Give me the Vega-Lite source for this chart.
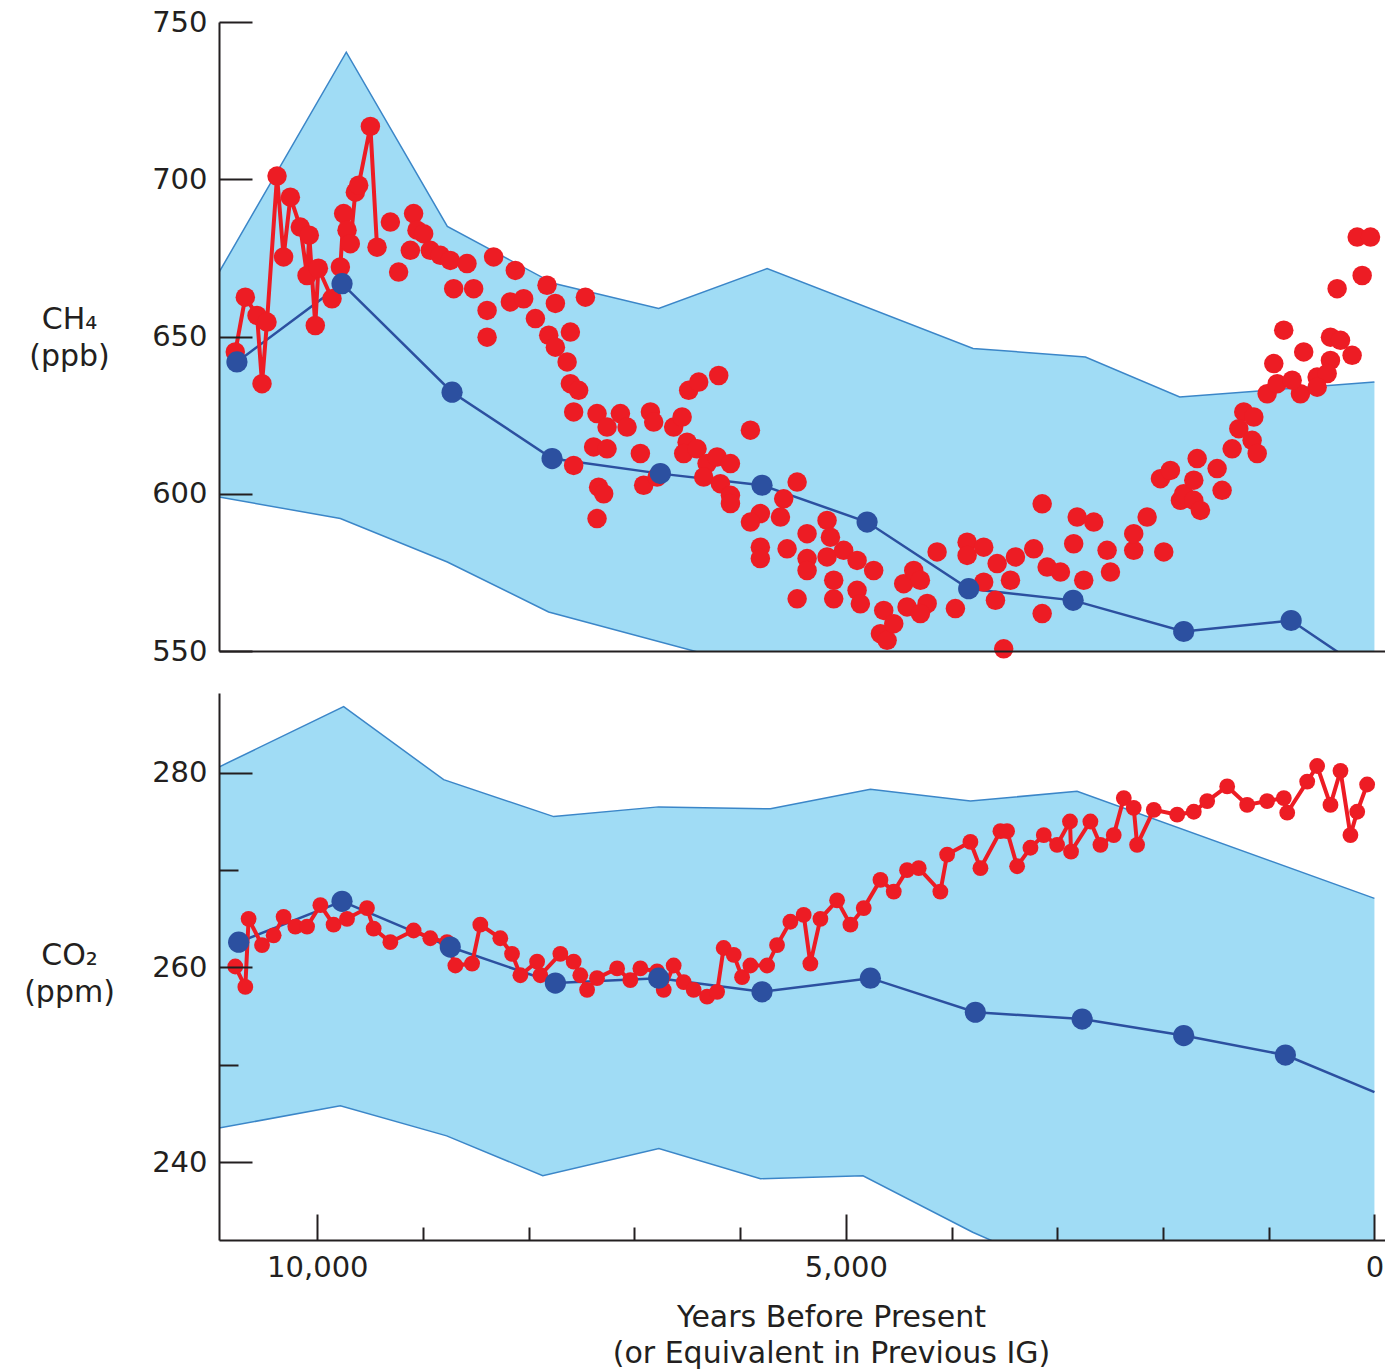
{
  "$schema": "https://vega.github.io/schema/vega-lite/v6.json",
  "background": "white",
  "padding": {"left": 23, "top": 8, "right": 0, "bottom": 8},
  "bounds": "flush",
  "spacing": 42,
  "config": {
    "view": {"stroke": null},
    "axis": {
      "domainColor": "#231f20", "domainWidth": 2,
      "tickColor": "#231f20", "tickWidth": 2,
      "labelFont": "DejaVu Sans", "labelFontSize": 29, "labelColor": "#231f20",
      "titleFont": "DejaVu Sans", "titleFontSize": 30, "titleFontWeight": "normal", "titleColor": "#231f20",
      "grid": false, "labelFlush": false, "labelOverlap": false
    }
  },
  "datasets": {
    "ch4_upper": [
      {"year": 10930, "ppb": 670.4}, {"year": 9726, "ppb": 740.4}, {"year": 8770, "ppb": 685.0},
      {"year": 7767, "ppb": 666.9}, {"year": 6771, "ppb": 658.9}, {"year": 5745, "ppb": 671.6},
      {"year": 3797, "ppb": 646.2}, {"year": 2734, "ppb": 643.5}, {"year": 1842, "ppb": 630.8},
      {"year": 0, "ppb": 635.5}
    ],
    "ch4_lower": [
      {"year": 10930, "ppb": 599.0}, {"year": 9782, "ppb": 592.1}, {"year": 8770, "ppb": 578.3},
      {"year": 7812, "ppb": 562.4}, {"year": 5750, "ppb": 543.8}, {"year": 3000, "ppb": 520},
      {"year": 0, "ppb": 500}
    ],
    "ch4_model": [
      {"year": 10760, "ppb": 641.9}, {"year": 9766, "ppb": 666.8}, {"year": 8725, "ppb": 632.3},
      {"year": 7779, "ppb": 611.2}, {"year": 6755, "ppb": 606.4}, {"year": 5793, "ppb": 602.7},
      {"year": 4799, "ppb": 591.0}, {"year": 3838, "ppb": 569.8}, {"year": 2850, "ppb": 566.1},
      {"year": 1804, "ppb": 556.2}, {"year": 788, "ppb": 559.7}, {"year": 0, "ppb": 541.8}
    ],
    "ch4_early": [
      {"year": 10776, "ppb": 645.1}, {"year": 10681, "ppb": 662.5}, {"year": 10570, "ppb": 656.7},
      {"year": 10523, "ppb": 635.0}, {"year": 10476, "ppb": 654.6}, {"year": 10381, "ppb": 701.0},
      {"year": 10319, "ppb": 675.3}, {"year": 10255, "ppb": 694.3}, {"year": 10161, "ppb": 684.8},
      {"year": 10097, "ppb": 669.4}, {"year": 10076, "ppb": 682.2}, {"year": 10019, "ppb": 653.5},
      {"year": 9990, "ppb": 671.7}, {"year": 9861, "ppb": 662.0}, {"year": 9782, "ppb": 672.1},
      {"year": 9751, "ppb": 689.1}, {"year": 9719, "ppb": 683.8}, {"year": 9688, "ppb": 679.5},
      {"year": 9640, "ppb": 695.9}, {"year": 9609, "ppb": 698.1}, {"year": 9498, "ppb": 716.8},
      {"year": 9435, "ppb": 678.4}
    ],
    "ch4_late": [
      {"year": 9309, "ppb": 686.4}, {"year": 9231, "ppb": 670.5}, {"year": 9120, "ppb": 677.4},
      {"year": 9089, "ppb": 689.1}, {"year": 9057, "ppb": 683.8}, {"year": 8994, "ppb": 682.7},
      {"year": 8931, "ppb": 677.4}, {"year": 8836, "ppb": 675.8}, {"year": 8742, "ppb": 674.2},
      {"year": 8584, "ppb": 673.2}, {"year": 8332, "ppb": 675.3}, {"year": 8127, "ppb": 671.0},
      {"year": 8710, "ppb": 665.2}, {"year": 8521, "ppb": 665.2}, {"year": 7827, "ppb": 666.3},
      {"year": 7748, "ppb": 660.5}, {"year": 7464, "ppb": 662.5}, {"year": 8394, "ppb": 658.3},
      {"year": 8174, "ppb": 661.0}, {"year": 8048, "ppb": 662.0}, {"year": 7937, "ppb": 655.7},
      {"year": 8394, "ppb": 649.8}, {"year": 7606, "ppb": 651.4}, {"year": 7811, "ppb": 650.4},
      {"year": 7748, "ppb": 646.6}, {"year": 7637, "ppb": 641.9}, {"year": 7606, "ppb": 635.0},
      {"year": 7528, "ppb": 632.9}, {"year": 7575, "ppb": 626.0}, {"year": 7354, "ppb": 625.5},
      {"year": 7133, "ppb": 625.5}, {"year": 6849, "ppb": 626.0}, {"year": 7259, "ppb": 621.2},
      {"year": 7070, "ppb": 621.2}, {"year": 6818, "ppb": 622.8}, {"year": 6629, "ppb": 621.2},
      {"year": 6549, "ppb": 624.4}, {"year": 6487, "ppb": 632.9}, {"year": 6392, "ppb": 635.5},
      {"year": 6203, "ppb": 637.6}, {"year": 5903, "ppb": 620.2}, {"year": 7386, "ppb": 614.9},
      {"year": 7259, "ppb": 614.3}, {"year": 6944, "ppb": 612.8}, {"year": 7575, "ppb": 609.0},
      {"year": 7339, "ppb": 602.1}, {"year": 7291, "ppb": 600.0}, {"year": 7354, "ppb": 592.1},
      {"year": 6913, "ppb": 602.7}, {"year": 6786, "ppb": 605.3}, {"year": 6502, "ppb": 616.4},
      {"year": 6534, "ppb": 612.8}, {"year": 6408, "ppb": 614.3}, {"year": 6313, "ppb": 609.6},
      {"year": 6218, "ppb": 611.7}, {"year": 6092, "ppb": 609.6}, {"year": 6345, "ppb": 605.3},
      {"year": 6187, "ppb": 603.2}, {"year": 6092, "ppb": 599.5}, {"year": 6092, "ppb": 596.9},
      {"year": 5461, "ppb": 603.7}, {"year": 5588, "ppb": 598.4}, {"year": 5619, "ppb": 592.6},
      {"year": 5809, "ppb": 593.7}, {"year": 5903, "ppb": 591.0}, {"year": 5809, "ppb": 583.0},
      {"year": 5809, "ppb": 579.4}, {"year": 5556, "ppb": 582.5}, {"year": 5367, "ppb": 587.3},
      {"year": 5178, "ppb": 591.5}, {"year": 5146, "ppb": 586.2}, {"year": 5367, "ppb": 579.4},
      {"year": 5367, "ppb": 575.6}, {"year": 5461, "ppb": 566.6}, {"year": 5178, "ppb": 579.9},
      {"year": 5021, "ppb": 582.0}, {"year": 4894, "ppb": 578.8}, {"year": 4737, "ppb": 575.6},
      {"year": 5115, "ppb": 572.5}, {"year": 5115, "ppb": 566.6}, {"year": 4894, "ppb": 569.3},
      {"year": 4863, "ppb": 565.0}, {"year": 4642, "ppb": 562.9}, {"year": 4673, "ppb": 555.5},
      {"year": 4610, "ppb": 553.4}, {"year": 4453, "ppb": 571.4}, {"year": 4421, "ppb": 564.0},
      {"year": 4358, "ppb": 575.6}, {"year": 4547, "ppb": 558.7}, {"year": 4295, "ppb": 572.5},
      {"year": 4231, "ppb": 565.1}, {"year": 4295, "ppb": 561.9}, {"year": 3964, "ppb": 563.5},
      {"year": 4137, "ppb": 581.5}, {"year": 3853, "ppb": 584.6}, {"year": 3853, "ppb": 580.4},
      {"year": 3696, "ppb": 583.0}, {"year": 3696, "ppb": 571.9}, {"year": 3585, "ppb": 566.1},
      {"year": 3569, "ppb": 577.8}, {"year": 3443, "ppb": 572.5}, {"year": 3396, "ppb": 579.9},
      {"year": 3223, "ppb": 582.5}, {"year": 3507, "ppb": 550.7}, {"year": 3143, "ppb": 561.9},
      {"year": 3143, "ppb": 596.8}, {"year": 3096, "ppb": 576.7}, {"year": 2970, "ppb": 575.1},
      {"year": 2845, "ppb": 584.1}, {"year": 2812, "ppb": 592.6}, {"year": 2655, "ppb": 591.0},
      {"year": 2750, "ppb": 572.5}, {"year": 2529, "ppb": 582.0}, {"year": 2497, "ppb": 575.1},
      {"year": 2277, "ppb": 582.0}, {"year": 2277, "ppb": 587.3}, {"year": 2150, "ppb": 592.6},
      {"year": 1993, "ppb": 581.5}, {"year": 2024, "ppb": 604.8}, {"year": 1930, "ppb": 607.4},
      {"year": 1835, "ppb": 597.9}, {"year": 1804, "ppb": 600.0}, {"year": 1709, "ppb": 597.9},
      {"year": 1646, "ppb": 594.7}, {"year": 1488, "ppb": 608.0}, {"year": 1677, "ppb": 611.2},
      {"year": 1709, "ppb": 604.3}, {"year": 1441, "ppb": 601.1}, {"year": 1346, "ppb": 614.3},
      {"year": 1236, "ppb": 626.0}, {"year": 1141, "ppb": 624.4}, {"year": 1283, "ppb": 620.7},
      {"year": 1157, "ppb": 617.0}, {"year": 1109, "ppb": 612.8}, {"year": 1015, "ppb": 631.8},
      {"year": 952, "ppb": 641.4}, {"year": 858, "ppb": 652.0}, {"year": 669, "ppb": 645.1},
      {"year": 700, "ppb": 631.8}, {"year": 542, "ppb": 637.1}, {"year": 416, "ppb": 649.8},
      {"year": 321, "ppb": 648.8}, {"year": 416, "ppb": 642.4}, {"year": 447, "ppb": 638.2},
      {"year": 211, "ppb": 644.0}, {"year": 353, "ppb": 665.2}, {"year": 116, "ppb": 669.4},
      {"year": 163, "ppb": 681.6}, {"year": 37, "ppb": 681.6}, {"year": 920, "ppb": 635.0},
      {"year": 542, "ppb": 633.9}, {"year": 778, "ppb": 636.1}
    ],
    "co2_upper": [
      {"year": 10930, "ppm": 280.6}, {"year": 9751, "ppm": 286.8}, {"year": 8805, "ppm": 279.3},
      {"year": 7764, "ppm": 275.5}, {"year": 6771, "ppm": 276.5}, {"year": 5714, "ppm": 276.3},
      {"year": 4768, "ppm": 278.3}, {"year": 3822, "ppm": 277.1}, {"year": 2813, "ppm": 278.1},
      {"year": 0, "ppm": 267.1}
    ],
    "co2_lower": [
      {"year": 10930, "ppm": 243.5}, {"year": 9782, "ppm": 245.8}, {"year": 8776, "ppm": 242.7},
      {"year": 7867, "ppm": 238.6}, {"year": 6769, "ppm": 241.4}, {"year": 5808, "ppm": 238.3},
      {"year": 4838, "ppm": 238.6}, {"year": 3800, "ppm": 232.8}, {"year": 2800, "ppm": 228},
      {"year": 0, "ppm": 222}
    ],
    "co2_model": [
      {"year": 10744, "ppm": 262.6}, {"year": 9766, "ppm": 266.8}, {"year": 8742, "ppm": 262.1},
      {"year": 7748, "ppm": 258.4}, {"year": 6771, "ppm": 258.9}, {"year": 5793, "ppm": 257.5},
      {"year": 4768, "ppm": 258.9}, {"year": 3775, "ppm": 255.4}, {"year": 2765, "ppm": 254.7},
      {"year": 1804, "ppm": 253.0}, {"year": 842, "ppm": 251.0}, {"year": 0, "ppm": 247.2}
    ],
    "co2_obs": [
      {"year": 10776, "ppm": 260.1}, {"year": 10681, "ppm": 258.0}, {"year": 10650, "ppm": 265.0},
      {"year": 10523, "ppm": 262.3}, {"year": 10413, "ppm": 263.3}, {"year": 10319, "ppm": 265.2},
      {"year": 10208, "ppm": 264.2}, {"year": 10097, "ppm": 264.2}, {"year": 9971, "ppm": 266.4},
      {"year": 9846, "ppm": 264.4}, {"year": 9719, "ppm": 265.0}, {"year": 9530, "ppm": 266.1},
      {"year": 9467, "ppm": 264.0}, {"year": 9309, "ppm": 262.6}, {"year": 9089, "ppm": 263.8},
      {"year": 8931, "ppm": 263.0}, {"year": 8773, "ppm": 262.6}, {"year": 8694, "ppm": 260.2},
      {"year": 8536, "ppm": 260.4}, {"year": 8458, "ppm": 264.4}, {"year": 8269, "ppm": 263.0},
      {"year": 8158, "ppm": 261.4}, {"year": 8079, "ppm": 259.2}, {"year": 7921, "ppm": 260.6},
      {"year": 7890, "ppm": 259.2}, {"year": 7701, "ppm": 261.4}, {"year": 7575, "ppm": 260.6},
      {"year": 7512, "ppm": 259.2}, {"year": 7448, "ppm": 257.7}, {"year": 7354, "ppm": 258.9},
      {"year": 7164, "ppm": 259.9}, {"year": 7039, "ppm": 258.7}, {"year": 6944, "ppm": 259.9},
      {"year": 6786, "ppm": 259.6}, {"year": 6723, "ppm": 257.7}, {"year": 6629, "ppm": 260.2},
      {"year": 6534, "ppm": 258.5}, {"year": 6440, "ppm": 257.7}, {"year": 6313, "ppm": 257.0},
      {"year": 6218, "ppm": 257.5}, {"year": 6156, "ppm": 262.0}, {"year": 6061, "ppm": 261.3},
      {"year": 5982, "ppm": 259.0}, {"year": 5903, "ppm": 260.2}, {"year": 5745, "ppm": 260.2},
      {"year": 5651, "ppm": 262.3}, {"year": 5525, "ppm": 264.7}, {"year": 5399, "ppm": 265.4},
      {"year": 5336, "ppm": 260.4}, {"year": 5241, "ppm": 265.0}, {"year": 5083, "ppm": 266.9},
      {"year": 4957, "ppm": 264.4}, {"year": 4831, "ppm": 266.1}, {"year": 4673, "ppm": 269.0},
      {"year": 4547, "ppm": 267.8}, {"year": 4421, "ppm": 270.0}, {"year": 4311, "ppm": 270.2},
      {"year": 4106, "ppm": 267.8}, {"year": 4042, "ppm": 271.6}, {"year": 3822, "ppm": 272.9},
      {"year": 3727, "ppm": 270.2}, {"year": 3538, "ppm": 274.0}, {"year": 3475, "ppm": 274.0},
      {"year": 3380, "ppm": 270.4}, {"year": 3254, "ppm": 272.3}, {"year": 3128, "ppm": 273.6},
      {"year": 3002, "ppm": 272.6}, {"year": 2880, "ppm": 275.0}, {"year": 2870, "ppm": 271.9},
      {"year": 2687, "ppm": 275.0}, {"year": 2592, "ppm": 272.6}, {"year": 2466, "ppm": 273.6},
      {"year": 2371, "ppm": 277.4}, {"year": 2277, "ppm": 276.4}, {"year": 2245, "ppm": 272.6},
      {"year": 2087, "ppm": 276.2}, {"year": 1866, "ppm": 275.7}, {"year": 1709, "ppm": 276.0},
      {"year": 1582, "ppm": 277.1}, {"year": 1393, "ppm": 278.6}, {"year": 1204, "ppm": 276.7},
      {"year": 1015, "ppm": 277.1}, {"year": 857, "ppm": 277.4}, {"year": 825, "ppm": 275.9},
      {"year": 636, "ppm": 279.1}, {"year": 542, "ppm": 280.7}, {"year": 416, "ppm": 276.7},
      {"year": 321, "ppm": 280.2}, {"year": 227, "ppm": 273.6}, {"year": 163, "ppm": 276.0},
      {"year": 69, "ppm": 278.8}
    ]
  },
  "vconcat": [
    {
      "width": 1166,
      "height": 629,
      "encoding": {
        "x": {
          "field": "year", "type": "quantitative",
          "scale": {"domain": [10930, -100], "nice": false, "zero": false},
          "axis": {"title": null, "labels": false, "ticks": false, "domain": true, "zindex": 1}
        },
        "y": {
          "field": "ppb", "type": "quantitative",
          "scale": {"domain": [550, 750], "nice": false, "zero": false},
          "axis": {
            "zindex": 1,
            "title": ["CH₄", "(ppb)"], "values": [550, 600, 650, 700, 750],
            "tickSize": -33, "labelPadding": 45, "labelAlign": "right", "labelBaseline": "middle",
            "titleAngle": 0, "titleAlign": "center", "titleBaseline": "alphabetic",
            "titleX": -150, "titleY": 306, "titleLineHeight": 37
          }
        }
      },
      "layer": [
        {"data": {"name": "ch4_upper"}, "mark": {"type": "area", "color": "#a0dcf5", "clip": true}, "encoding": {"y2": {"datum": 550}}},
        {"data": {"name": "ch4_lower"}, "mark": {"type": "area", "color": "white", "clip": true}, "encoding": {"y2": {"datum": 550}}},
        {"data": {"name": "ch4_upper"}, "mark": {"type": "line", "color": "#3b86c8", "strokeWidth": 1.5, "clip": true}, "encoding": {}},
        {"data": {"name": "ch4_lower"}, "mark": {"type": "line", "color": "#3b86c8", "strokeWidth": 1.5, "clip": true}, "encoding": {}},
        {"data": {"name": "ch4_model"}, "mark": {"type": "line", "color": "#2c50a0", "strokeWidth": 2.5, "clip": true}, "encoding": {}},
        {"data": {"name": "ch4_early"}, "mark": {"type": "line", "color": "#ed1c24", "strokeWidth": 4, "clip": true}, "encoding": {}},
        {"data": {"name": "ch4_early"}, "mark": {"type": "circle", "color": "#ed1c24", "size": 380, "opacity": 1}},
        {"data": {"name": "ch4_late"}, "mark": {"type": "circle", "color": "#ed1c24", "size": 380, "opacity": 1}},
        {"data": {"name": "ch4_model"}, "transform": [{"filter": "datum.year > 100"}], "mark": {"type": "circle", "color": "#2c50a0", "size": 450, "opacity": 1}}
      ]
    },
    {
      "width": 1166,
      "height": 547,
      "resolve": {"axis": {"x": "independent", "y": "independent"}},
      "layer": [
        {
          "encoding": {
            "x": {
              "field": "year", "type": "quantitative",
              "scale": {"domain": [10930, -100], "nice": false, "zero": false},
              "axis": {
                "zindex": 1,
                "orient": "bottom",
                "title": ["Years Before Present", "(or Equivalent in Previous IG)"],
                "values": [10000, 5000, 0],
                "format": ",.0f",
                "tickSize": -26,
                "labelPadding": 39, "labelBaseline": "top", "labelAlign": "center",
                "titleX": 612, "titleY": 86, "titleAlign": "center", "titleBaseline": "alphabetic", "titleLineHeight": 36
              }
            },
            "y": {
              "field": "ppm", "type": "quantitative",
              "scale": {"domain": [232, 288.2], "nice": false, "zero": false},
              "axis": {
                "zindex": 1,
                "orient": "left",
                "title": ["CO₂", "(ppm)"], "values": [240, 260, 280],
                "tickSize": -33,
                "labelPadding": 45, "labelAlign": "right", "labelBaseline": "middle",
                "titleAngle": 0, "titleAlign": "center", "titleBaseline": "alphabetic",
                "titleX": -150, "titleY": 271, "titleLineHeight": 37
              }
            }
          },
          "layer": [
            {"data": {"name": "co2_upper"}, "mark": {"type": "area", "color": "#a0dcf5", "clip": true}, "encoding": {"y2": {"datum": 232}}},
            {"data": {"name": "co2_lower"}, "mark": {"type": "area", "color": "white", "clip": true}, "encoding": {"y2": {"datum": 232}}},
            {"data": {"name": "co2_upper"}, "mark": {"type": "line", "color": "#3b86c8", "strokeWidth": 1.5, "clip": true}, "encoding": {}},
            {"data": {"name": "co2_lower"}, "mark": {"type": "line", "color": "#3b86c8", "strokeWidth": 1.5, "clip": true}, "encoding": {}},
            {"data": {"name": "co2_model"}, "mark": {"type": "line", "color": "#2c50a0", "strokeWidth": 2.5, "clip": true}, "encoding": {}},
            {"data": {"name": "co2_obs"}, "mark": {"type": "line", "color": "#ed1c24", "strokeWidth": 4, "clip": true}, "encoding": {}},
            {"data": {"name": "co2_obs"}, "mark": {"type": "circle", "color": "#ed1c24", "size": 250, "opacity": 1}}
          ]
        },
        {
          "data": {"name": "co2_model"},
          "transform": [{"filter": "datum.year > 100"}],
          "mark": {"type": "circle", "color": "#2c50a0", "size": 450, "opacity": 1},
          "encoding": {
            "x": {
              "field": "year", "type": "quantitative",
              "scale": {"domain": [10930, -100], "nice": false, "zero": false},
              "axis": {
                "zindex": 1,
                "orient": "bottom", "title": null, "labels": false, "domain": false,
                "values": [9000, 8000, 7000, 6000, 4000, 3000, 2000, 1000],
                "tickSize": -13
              }
            },
            "y": {
              "field": "ppm", "type": "quantitative",
              "scale": {"domain": [232, 288.2], "nice": false, "zero": false},
              "axis": {
                "zindex": 1,
                "orient": "left", "title": null, "labels": false, "domain": false,
                "values": [250, 270],
                "tickSize": -19
              }
            }
          }
        }
      ]
    }
  ]
}
